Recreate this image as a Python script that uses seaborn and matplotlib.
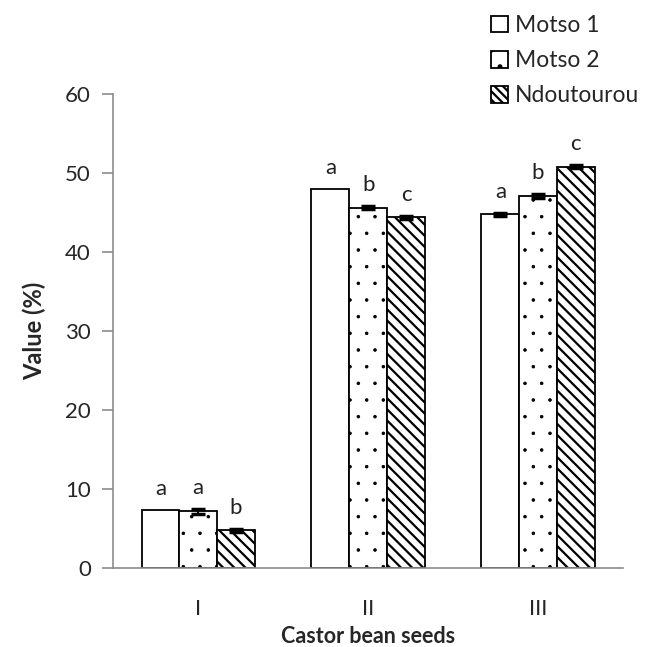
import numpy as np
import pandas as pd
import seaborn as sns
import matplotlib.pyplot as plt
import matplotlib.hatch as mhatch
from matplotlib.patches import Patch

# Data
groups = ['I', 'II', 'III']
varieties = ['Motso 1', 'Motso 2', 'Ndoutourou']
values = {
    'Motso 1':    [7.4, 48.0, 44.8],
    'Motso 2':    [7.2, 45.6, 47.1],
    'Ndoutourou': [4.8, 44.4, 50.8],
}
errors = {
    'Motso 1':    [0.0, 0.0, 0.2],
    'Motso 2':    [0.3, 0.2, 0.2],
    'Ndoutourou': [0.2, 0.15, 0.2],
}
letters = {
    'Motso 1':    ['a', 'a', 'a'],
    'Motso 2':    ['a', 'b', 'b'],
    'Ndoutourou': ['b', 'c', 'c'],
}
hatches = ['', '.', '\\\\\\']
hatch_lw = [1.0, 0.6, 1.6]

rows = []
for v in varieties:
    for g, val in zip(groups, values[v]):
        rows.append({'group': g, 'variety': v, 'value': val})
df = pd.DataFrame(rows)

sns.set_style('white')
plt.rcParams['font.family'] = ['Lato', 'DejaVu Sans']
plt.rcParams['hatch.linewidth'] = 1.6
plt.rcParams['hatch.color'] = 'black'
# smaller dots for the '.' hatch
mhatch.SmallFilledCircles.size = 0.08

fig = plt.figure(figsize=(6.7, 6.47), dpi=100)
ax = fig.add_axes([0.169, 0.122, 0.761, 0.7325])

sns.barplot(data=df, x='group', y='value', hue='variety', order=groups,
            hue_order=varieties, palette=['white'] * 3, edgecolor='black',
            linewidth=1.3, width=0.667, errorbar=None, legend=False, ax=ax)

for cont, v, h, hl in zip(ax.containers, varieties, hatches, hatch_lw):
    for bar, err, lab in zip(cont, errors[v], letters[v]):
        bar.set_hatch(h)
        if hasattr(bar, 'set_hatch_linewidth'):
            bar.set_hatch_linewidth(hl)
        x = bar.get_x() + bar.get_width() / 2
        top = bar.get_height()
        if err > 0:
            ax.errorbar(x, top, yerr=err, fmt='none', ecolor='black',
                        elinewidth=1.5, capsize=5, capthick=2.5)
        ax.text(x, top + err + 1.4, lab, ha='center', va='bottom',
                fontsize=16, color='#222222')

ax.set_xlim(-0.5, 2.5)
ax.set_ylim(0, 60)
ax.set_yticks(range(0, 61, 10))
ax.set_xticks([-0.5, 0.5, 1.5, 2.5], minor=True)
ax.tick_params(axis='x', which='major', length=0, pad=22, labelsize=16)
ax.tick_params(axis='x', which='minor', length=8, color='#8c8c8c', width=1.2)
ax.tick_params(axis='y', length=8, color='#8c8c8c', width=1.2, labelsize=16, pad=8)
ax.tick_params(axis='both', direction='out', bottom=True, left=True)

for s in ['top', 'right']:
    ax.spines[s].set_visible(False)
for s in ['left', 'bottom']:
    ax.spines[s].set_color('#8c8c8c')
    ax.spines[s].set_linewidth(1.2)

ax.set_xlabel('Castor bean seeds', fontsize=15.5, fontweight='bold', labelpad=5)
ax.set_ylabel('Value (%)', fontsize=17, fontweight='bold', labelpad=14)

handles = []
for h, hl in zip(['', '.', '\\\\\\\\'], hatch_lw):
    p = Patch(facecolor='white', edgecolor='black', hatch=h, linewidth=1.3)
    if hasattr(p, 'set_hatch_linewidth'):
        p.set_hatch_linewidth(hl)
    handles.append(p)
fig.legend(handles, varieties, loc='upper left', bbox_to_anchor=(0.71, 1.0),
           frameon=False, fontsize=16.5, handlelength=0.75, handleheight=0.75,
           handletextpad=0.3, labelspacing=0.62, borderaxespad=0.25)

fig.savefig('out.png', dpi=100, facecolor='white')
